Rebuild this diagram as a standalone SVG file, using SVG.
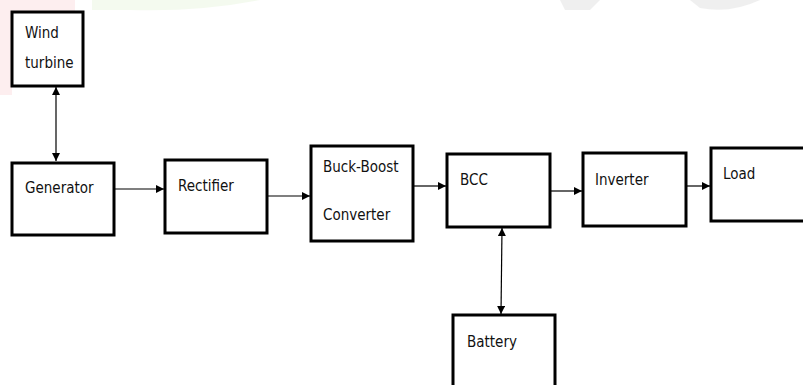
<svg xmlns="http://www.w3.org/2000/svg" width="803" height="385" viewBox="0 0 803 385">
<style>
.box{fill:#fff;stroke:#000;stroke-width:3}
.t{font-family:"DejaVu Sans Condensed","DejaVu Sans",sans-serif;font-size:15px;fill:#111}
.c{stroke:#000;stroke-width:1.2;fill:none}
</style>
<defs>
<marker id="ah" viewBox="0 0 10 10" refX="10" refY="5" markerWidth="8" markerHeight="8" markerUnits="userSpaceOnUse" orient="auto-start-reverse">
<path d="M0,0 L10,5 L0,10 z" fill="#000"/>
</marker>
</defs>
<rect width="803" height="385" fill="#fff"/>
<g id="watermark" opacity="0.6">
<path d="M0,0 H75 V30 H12 V95 H0 z" fill="#fde3e6"/>
<path d="M92,0 H260 Q200,12 130,10 H92 z" fill="#eef8e6"/>
<path d="M560,0 H600 L590,10 H565 z" fill="#e6e6e6"/>
<path d="M690,0 H760 Q730,14 700,8 z" fill="#e6e6e6"/>
</g>
<g id="connectors">
<line class="c" x1="56" y1="87" x2="56" y2="161" marker-start="url(#ah)" marker-end="url(#ah)"/>
<line class="c" x1="114" y1="189" x2="164" y2="189" marker-end="url(#ah)"/>
<line class="c" x1="268" y1="196" x2="310" y2="196" marker-end="url(#ah)"/>
<line class="c" x1="414" y1="186" x2="446" y2="186" marker-end="url(#ah)"/>
<line class="c" x1="551" y1="191" x2="582" y2="191" marker-end="url(#ah)"/>
<line class="c" x1="687" y1="186" x2="710" y2="186" marker-end="url(#ah)"/>
<line class="c" x1="502" y1="228" x2="501" y2="314" marker-start="url(#ah)" marker-end="url(#ah)"/>
</g>
<g id="wind-turbine">
<rect class="box" x="12" y="12" width="71" height="74"/>
<text class="t" x="25" y="38">Wind</text>
<text class="t" x="25" y="68">turbine</text>
</g>
<g id="generator">
<rect class="box" x="12" y="163" width="102" height="72"/>
<text class="t" x="25" y="193">Generator</text>
</g>
<g id="rectifier">
<rect class="box" x="165" y="160" width="102" height="73"/>
<text class="t" x="178" y="191">Rectifier</text>
</g>
<g id="buck-boost">
<rect class="box" x="311" y="146" width="102" height="95"/>
<text class="t" x="323" y="172">Buck-Boost</text>
<text class="t" x="323" y="220">Converter</text>
</g>
<g id="bcc">
<rect class="box" x="447" y="154" width="103" height="73"/>
<text class="t" x="460" y="185">BCC</text>
</g>
<g id="inverter">
<rect class="box" x="583" y="153" width="103" height="73"/>
<text class="t" x="595" y="185">Inverter</text>
</g>
<g id="load">
<rect class="box" x="711" y="148" width="100" height="73"/>
<text class="t" x="723" y="179">Load</text>
</g>
<g id="battery">
<rect class="box" x="453" y="315" width="102" height="80"/>
<text class="t" x="467" y="347">Battery</text>
</g>
</svg>
